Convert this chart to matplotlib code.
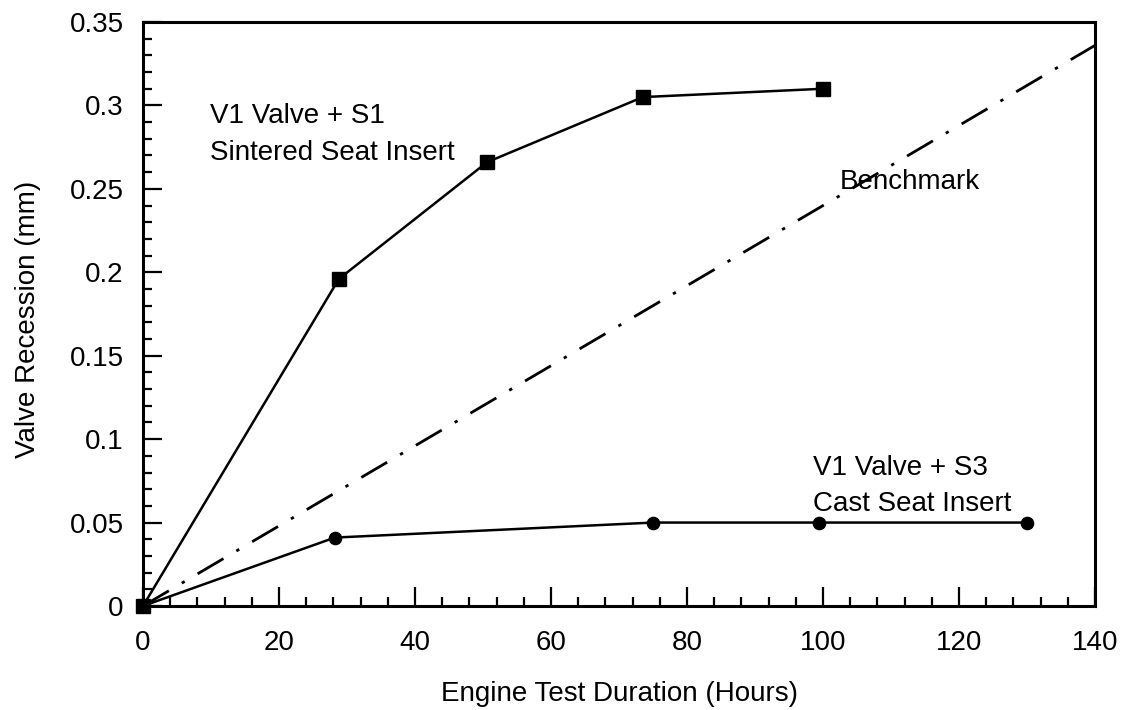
import matplotlib
matplotlib.use("Agg")
import matplotlib.pyplot as plt
from matplotlib.ticker import MultipleLocator, FuncFormatter

plt.rcParams['font.family'] = ['Liberation Sans', 'DejaVu Sans']

# Data
s1_hours = [0, 28.8, 50.6, 73.5, 100]
s1_recession = [0, 0.196, 0.266, 0.305, 0.310]
s3_hours = [0, 28.2, 75, 99.4, 130]
s3_recession = [0, 0.041, 0.050, 0.050, 0.050]
bench_hours = [0, 140]
bench_recession = [0, 0.336]

fig = plt.figure(figsize=(11.35, 7.1), dpi=100)
ax = fig.add_axes([0.126, 0.1465, 0.8388, 0.8225])

ax.plot(s1_hours, s1_recession, color='black', lw=1.8, marker='s', ms=10, clip_on=False, zorder=3)
ax.plot(s3_hours, s3_recession, color='black', lw=1.8, marker='o', ms=8.8, clip_on=False, zorder=3)
ax.plot(bench_hours, bench_recession, color='black', lw=2.0, dashes=(10.8, 5.4, 1.2, 5.4))

ax.set_xlim(0, 140)
ax.set_ylim(0, 0.35)
ax.xaxis.set_major_locator(MultipleLocator(20))
ax.xaxis.set_minor_locator(MultipleLocator(4))
ax.yaxis.set_major_locator(MultipleLocator(0.05))
ax.yaxis.set_minor_locator(MultipleLocator(0.01))

def yfmt(v, pos):
    s = ('%.2f' % v).rstrip('0').rstrip('.')
    return s if s else '0'
ax.yaxis.set_major_formatter(FuncFormatter(yfmt))

for sp in ax.spines.values():
    sp.set_linewidth(2.2)

ax.tick_params(which='major', direction='in', length=14, width=1.6, labelsize=20, pad=14)
ax.tick_params(axis='x', which='major', pad=17)
ax.tick_params(which='minor', direction='in', length=6.5, width=1.6)
ax.tick_params(top=False, right=False, which='both')

ax.set_xlabel('Engine Test Duration (Hours)', fontsize=20)
ax.set_ylabel('Valve Recession (mm)', fontsize=20)
ax.xaxis.set_label_coords(0.5, -0.128)
ax.yaxis.set_label_coords(-0.107, 0.49)

ax.text(9.85, 0.267, 'V1 Valve + S1\nSintered Seat Insert', fontsize=20, ha='left', va='baseline', linespacing=1.55)
ax.text(102.5, 0.254, 'Benchmark', fontsize=20, ha='left', va='center')
ax.text(98.5, 0.057, 'V1 Valve + S3\nCast Seat Insert', fontsize=20, ha='left', va='baseline', linespacing=1.5)

fig.savefig('out.png', dpi=100)
